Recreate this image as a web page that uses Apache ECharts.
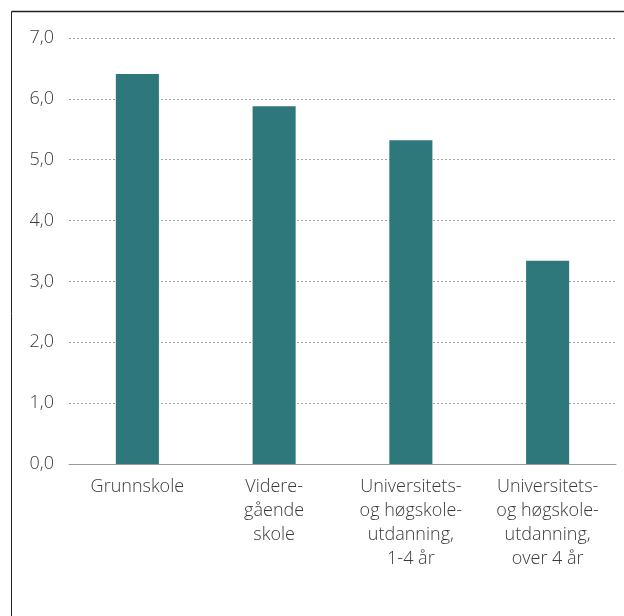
<!DOCTYPE html>
<html>
<head>
<meta charset="utf-8">
<script src="https://cdn.jsdelivr.net/npm/echarts@6/dist/echarts.min.js"></script>
<style>
  html, body { margin: 0; padding: 0; background: #fff; }
  #chart { width: 624px; height: 616px; }
</style>
</head>
<body>
<div id="chart"></div>
<script>
// Education levels and their values
const categories = [
  'Grunnskole',
  'Videre-\ngående\nskole',
  'Universitets-\nog høgskole-\nutdanning,\n1-4 år',
  'Universitets-\nog høgskole-\nutdanning,\nover 4 år'
];
const values = [6.41, 5.88, 5.32, 3.34];

const yMin = 0;
const yMax = 7;
const yStep = 1;

const fontFamily = '"Open Sans", "Noto Sans", sans-serif';
const textColor = '#3a3a3a';

const chart = echarts.init(document.getElementById('chart'), null, { renderer: 'canvas' });

chart.setOption({
  backgroundColor: '#ffffff',
  animation: false,
  graphic: [
    // frame: left and top edges
    { type: 'line', shape: { x1: 11.5, y1: 11.5, x2: 11.5, y2: 616 }, style: { stroke: '#222', lineWidth: 1 } },
    { type: 'line', shape: { x1: 11.5, y1: 11.5, x2: 624, y2: 11.5 }, style: { stroke: '#222', lineWidth: 1.5 } }
  ],
  grid: { left: 69, right: 8, top: 38, bottom: 152, containLabel: false },
  xAxis: {
    type: 'category',
    data: categories,
    axisLine: { show: true, lineStyle: { color: '#9a9a9a', width: 1 } },
    axisTick: { show: false },
    axisLabel: {
      interval: 0,
      margin: 11,
      color: textColor,
      fontFamily: fontFamily,
      fontSize: 18,
      fontWeight: 300,
      lineHeight: 24,
      align: 'center'
    }
  },
  yAxis: {
    type: 'value',
    min: yMin,
    max: yMax,
    interval: yStep,
    axisLine: { show: false },
    axisTick: { show: false },
    axisLabel: {
      margin: 15,
      color: textColor,
      fontFamily: fontFamily,
      fontSize: 18,
      fontWeight: 300,
      formatter: v => v.toFixed(1).replace('.', ',')
    },
    splitLine: { show: true, lineStyle: { color: '#a0a0a0', type: [2, 2], width: 1 } }
  },
  series: [{
    type: 'bar',
    data: values,
    barWidth: '31.5%',
    itemStyle: { color: '#2e787c' },
    z: 3
  }]
});
</script>
</body>
</html>
